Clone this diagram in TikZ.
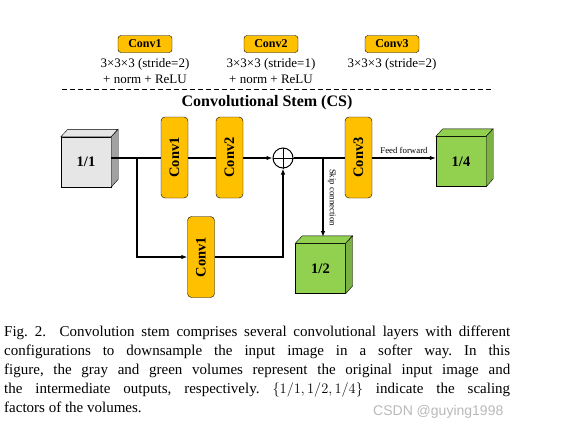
\documentclass[tikz,border=0pt]{standalone}
\usepackage{fontspec}
\setmainfont{Liberation Serif}
\newfontfamily\wmfont{Liberation Sans}
\usetikzlibrary{arrows.meta,positioning}

\definecolor{convorange}{HTML}{FFC000}
\definecolor{volgreen}{HTML}{92D050}
\definecolor{volgray}{HTML}{E6E6E6}

\begin{document}
\begin{tikzpicture}[x=1pt, y=-1pt,
    conv/.style={draw, fill=convorange, rounded corners=4pt, minimum width=81pt, minimum height=27pt,
                 inner sep=0pt, font=\fontsize{14.5}{16}\bfseries, rotate=90},
    legend/.style={draw, fill=convorange, rounded corners=3pt, minimum width=54pt, minimum height=17pt,
                   inner sep=0pt, font=\fontsize{12}{14}\bfseries},
    legtext/.style={align=center, inner sep=0pt, font=\fontsize{13}{16}\selectfont},
    vol/.style={draw, minimum width=50pt, minimum height=50pt, inner sep=0pt, font=\fontsize{14.5}{16}\bfseries},
    flow/.style={line width=1.1pt},
    tip/.style={flow, -{Latex[length=6pt,width=4.5pt]}}]
\useasboundingbox (0,0) rectangle (562,429);

% legend
\node[legend] (lega) at (145,44) {Conv1};
\node[legend] (legb) at (271,44) {Conv2};
\node[legend] (legc) at (392,44) {Conv3};
\node[legtext, below=6pt of lega] {3×3×3 (stride=2)\\+ norm + ReLU};
\node[legtext, below=6pt of legb] {3×3×3 (stride=1)\\+ norm + ReLU};
\node[legtext, below=6pt of legc] {3×3×3 (stride=2)};
\draw[dashed, dash pattern=on 5pt off 3pt] (62,89) -- (493,89);
\node[font=\fontsize{16}{18}\bfseries] (title) at (267,103) {Convolutional Stem (CS)};

% volumes
\node[vol, fill=volgray] (in) at (86,162) {1/1};
\node[vol, fill=volgreen] (half) at (320.5,268.5) {1/2};
\node[vol, fill=volgreen] (quart) at (461,161.5) {1/4};
\foreach \v/\top/\side in {in/volgray/volgray!70!black, half/volgreen/volgreen!85!black, quart/volgreen/volgreen!85!black} {
    \draw[fill=\top] (\v.north west) -- ++(7,-7.5) -- ++(50,0) -- (\v.north east) -- cycle;
    \draw[fill=\side] (\v.north east) -- ++(7,-7.5) -- ++(0,50) -- (\v.south east) -- cycle;
}

% conv layers
\node[conv] (conva) at (174.5,157.5) {Conv1};
\node[conv] (convb) at (229.5,157.5) {Conv2};
\node[conv] (convd) at (201,257) {Conv1};
\node[conv] (convc) at (358.5,157.5) {Conv3};
\node[circle, draw, line width=1pt, minimum size=20pt, inner sep=0pt] (plus) at (283,158) {};
\draw[line width=1pt] (plus.north) -- (plus.south) (plus.west) -- (plus.east);

% connections
\coordinate (bra) at (137,158);
\coordinate (brb) at (323,158);
\coordinate (halftop) at (323,237);
\draw[flow] (in.east |- bra) -- (conva.north |- bra);
\draw[flow] (conva.south |- bra) -- (convb.north |- bra);
\draw[tip] (convb.south |- bra) -- (plus.west);
\draw[tip] (bra) |- (convd.north);
\draw[tip] (convd.south) -| (plus.south);
\draw[flow] (plus.east) -- (convc.north |- bra);
\draw[tip] (brb) -- node[right=1pt, rotate=-90, anchor=south, font=\fontsize{8.8}{10}\selectfont] {Skip connection} (halftop);
\draw[tip] (convc.south |- bra) -- node[above=1pt, font=\fontsize{8.8}{10}\selectfont] {Feed forward} (quart.west |- bra);

% caption
\node[anchor=base west, text width=506pt, align=justify, inner sep=0pt, font=\fontsize{15}{19.2}\selectfont\frenchspacing] (caption) at (4,336)
  {Fig.~2.\ \ Convolution stem comprises several convolutional layers with different\linebreak
   configurations to downsample the input image in a softer way. In this\linebreak
   figure, the gray and green volumes represent the original input image and\linebreak
   the intermediate outputs, respectively. $\{1/1,1/2,1/4\}$ indicate the scaling\linebreak
   factors of the volumes.};
\node[anchor=base west, inner sep=0pt, text=gray!55, font=\wmfont\fontsize{14}{16}\selectfont] (mark) at (373,415) {CSDN @guying1998};
\end{tikzpicture}
\end{document}
